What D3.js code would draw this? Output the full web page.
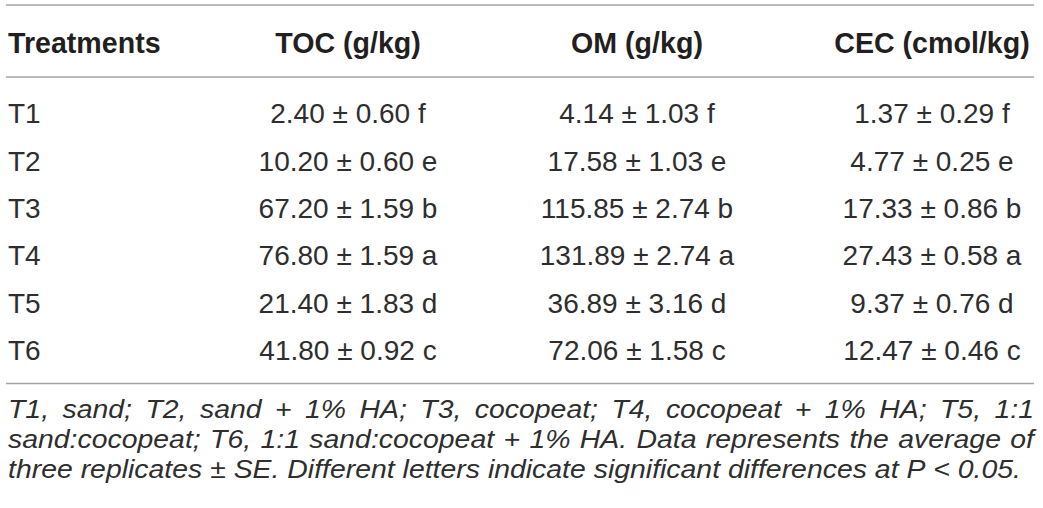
<!DOCTYPE html>
<html>
<head>
<meta charset="utf-8">
<script src="https://cdn.jsdelivr.net/npm/d3@7/dist/d3.min.js"></script>
<style>
  html, body { margin: 0; padding: 0; background: #fff; }
  svg { display: block; }
</style>
</head>
<body>
<svg id="chart" width="1043" height="508"></svg>
<script>
// ---- data ----
const treatments = ["T1", "T2", "T3", "T4", "T5", "T6"];
const columns = ["Treatments", "TOC (g/kg)", "OM (g/kg)", "CEC (cmol/kg)"];
const tocMean = [2.40, 10.20, 67.20, 76.80, 21.40, 41.80];
const tocSE   = [0.60, 0.60, 1.59, 1.59, 1.83, 0.92];
const tocSig  = ["f", "e", "b", "a", "d", "c"];
const omMean  = [4.14, 17.58, 115.85, 131.89, 36.89, 72.06];
const omSE    = [1.03, 1.03, 2.74, 2.74, 3.16, 1.58];
const omSig   = ["f", "e", "b", "a", "d", "c"];
const cecMean = [1.37, 4.77, 17.33, 27.43, 9.37, 12.47];
const cecSE   = [0.29, 0.25, 0.86, 0.58, 0.76, 0.46];
const cecSig  = ["f", "e", "b", "a", "d", "c"];
const footLines = [
  "T1, sand; T2, sand + 1% HA; T3, cocopeat; T4, cocopeat + 1% HA; T5, 1:1",
  "sand:cocopeat; T6, 1:1 sand:cocopeat + 1% HA. Data represents the average of",
  "three replicates \u00B1 SE. Different letters indicate significant differences at P < 0.05."
];

// ---- layout ----
const svg = d3.select("#chart");
const FONT = "'Liberation Sans', Arial, Helvetica, sans-serif";
const bodySize = 28, headSize = 28.6, footSize = 28, footVScale = 0.95;
const left = 8, right = 1034;

const x = d3.scaleOrdinal().domain(columns).range([left, 348, 637, 932]);
const anchor = d3.scaleOrdinal().domain(columns).range(["start", "middle", "middle", "middle"]);
const y = d3.scaleBand().domain(treatments).range([89.65, 373.45]).padding(0);

const fmt = d3.format(".2f");
const cell = (m, s, g) => `${fmt(m)} \u00B1 ${fmt(s)} ${g}`;

const rows = treatments.map((t, i) => [
  t,
  cell(tocMean[i], tocSE[i], tocSig[i]),
  cell(omMean[i], omSE[i], omSig[i]),
  cell(cecMean[i], cecSE[i], cecSig[i])
]);

// rules
const rules = [5, 77, 383.5];
svg.selectAll("line.rule").data(rules).join("line")
  .attr("class", "rule")
  .attr("x1", 6).attr("x2", right)
  .attr("y1", d => d).attr("y2", d => d)
  .attr("stroke", "#a3a3a3").attr("stroke-width", 1.6);

// header
svg.selectAll("text.head").data(columns).join("text")
  .attr("class", "head")
  .attr("x", d => x(d))
  .attr("y", 53)
  .attr("text-anchor", d => anchor(d))
  .attr("font-family", FONT).attr("font-weight", "bold")
  .attr("font-size", headSize).attr("fill", "#231f20")
  .text(d => d);

// body
const rowG = svg.selectAll("g.row").data(rows).join("g")
  .attr("class", "row")
  .attr("transform", (d, i) => `translate(0,${y(treatments[i]) + y.bandwidth() / 2})`);

rowG.selectAll("text").data(d => d.map((v, j) => ({ v, col: columns[j] }))).join("text")
  .attr("x", d => x(d.col))
  .attr("y", 0).attr("dy", "0.36em")
  .attr("text-anchor", d => anchor(d.col))
  .attr("font-family", FONT)
  .attr("font-size", bodySize).attr("fill", "#2e2e2e")
  .text(d => d.v);

// footnote (justified, condensed italic) - one text per line, words as tspans
const footBase = [418, 448.2, 478.4];
const lastEnd = 1021;
const measure = svg.append("text")
  .attr("font-family", FONT).attr("font-style", "italic")
  .attr("font-size", footSize).attr("visibility", "hidden");
function w(s) { measure.text(s); return measure.node().getComputedTextLength(); }
const spaceW = w("a a") - w("aa");
const lastWords = footLines[2].split(" ");
const lastNatural = d3.sum(lastWords, w) + spaceW * (lastWords.length - 1);
const cond = (lastEnd - left) / lastNatural;

const footG = svg.append("g").attr("class", "footnote");
footLines.forEach((line, li) => {
  const words = line.split(" ");
  const nat = words.map(s => w(s));
  const end = li === 2 ? lastEnd : right;
  // gap in unscaled units
  const gap = ((end - left) / cond - d3.sum(nat)) / (words.length - 1);
  let cx = 0;
  const pos = nat.map(ww => { const p = cx; cx += ww + gap; return p; });
  const t = footG.append("text")
    .attr("transform", `translate(${left},${footBase[li]}) scale(${cond},${footVScale})`)
    .attr("font-family", FONT).attr("font-style", "italic")
    .attr("font-size", footSize).attr("fill", "#2e2e2e");
  t.selectAll("tspan").data(words).join("tspan")
    .attr("x", (d, i) => pos[i])
    .attr("y", 0)
    .text(d => d);
});
measure.remove();
</script>
</body>
</html>
